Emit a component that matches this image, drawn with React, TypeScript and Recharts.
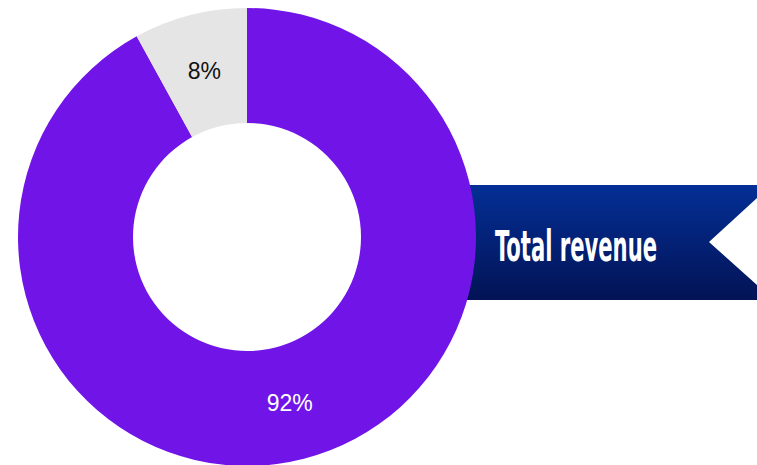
import { PieChart, Pie, Cell } from "recharts";

const segments = ["Total revenue", "Other"];
const shares = [92, 8];
const shareLabels = ["92%", "8%"];
const colors = ["#7014E8", "#E5E5E5"];
const labelColors = ["#FFFFFF", "#111111"];
const ribbonTitle = "Total revenue";

const data = segments.map((name, i) => ({ name, value: shares[i], label: shareLabels[i] }));

const RADIAN = Math.PI / 180;

function SliceLabel({ cx, cy, midAngle, innerRadius, outerRadius, index }: any) {
  const r = (innerRadius + outerRadius) / 2;
  const x = cx + r * Math.cos(-midAngle * RADIAN);
  const y = cy + r * Math.sin(-midAngle * RADIAN);
  return (
    <text
      x={x}
      y={y}
      fill={labelColors[index]}
      textAnchor="middle"
      dominantBaseline="central"
      fontSize={23}
      fontFamily="'Liberation Sans', Arial, sans-serif"
    >
      {data[index].label}
    </text>
  );
}

// condensed title: squeeze horizontally so it fits the 162px slot
const titleScale = 0.55;

function Ribbon() {
  return (
    <svg width={757} height={465} style={{ position: "absolute", left: 0, top: 0 }}>
      <defs>
        <linearGradient id="ribbonFill" x1="0" y1="0" x2="0" y2="1">
          <stop offset="0%" stopColor="#032F96" />
          <stop offset="100%" stopColor="#031355" />
        </linearGradient>
      </defs>
      <polygon
        points="400,185 757,185 757,198 709,242 757,285 757,300 400,300"
        fill="url(#ribbonFill)"
      />
      <g transform={`translate(495,261) scale(${titleScale},1)`}>
        <text
          x={0}
          y={0}
          fill="#FFFFFF"
          fontSize={42}
          fontWeight="bold"
          fontFamily="'DejaVu Sans Condensed', 'Liberation Sans Narrow', sans-serif"
          textLength={162 / titleScale}
          lengthAdjust="spacingAndGlyphs"
        >
          {ribbonTitle}
        </text>
      </g>
    </svg>
  );
}

export default function App() {
  return (
    <div style={{ position: "absolute", left: 0, top: 0, width: 757, height: 465, background: "#fff" }}>
      <Ribbon />
      <div style={{ position: "absolute", left: 0, top: 0 }}>
        <PieChart width={757} height={465} margin={{ top: 0, right: 0, bottom: 0, left: 0 }}>
          <Pie
            data={data}
            dataKey="value"
            cx={247}
            cy={237}
            innerRadius={114}
            outerRadius={229}
            startAngle={90}
            endAngle={-270}
            stroke="none"
            label={SliceLabel}
            labelLine={false}
            isAnimationActive={false}
          >
            {data.map((d, i) => (
              <Cell key={d.name} fill={colors[i]} />
            ))}
          </Pie>
        </PieChart>
      </div>
    </div>
  );
}
